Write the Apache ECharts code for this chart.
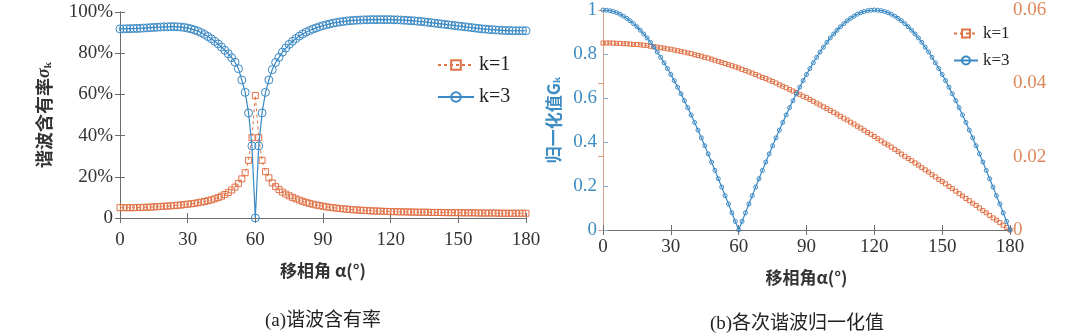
<!DOCTYPE html>
<html>
<head>
<meta charset="utf-8">
<script src="https://cdn.jsdelivr.net/npm/echarts@6/dist/echarts.min.js"></script>
<style>
html,body{margin:0;padding:0;background:#fff;}
#c{width:1080px;height:333px;}
</style>
</head>
<body>
<div id="c"></div>
<script>
// phase-shift angle alpha (deg)
const alpha = [0,1.5,3,4.5,6,7.5,9,10.5,12,13.5,15,16.5,18,19.5,21,22.5,24,25.5,27,28.5,30,31.5,33,34.5,36,37.5,39,40.5,42,43.5,45,46.5,48,49.5,51,52.5,54,55.5,57,58.5,60,61.5,63,64.5,66,67.5,69,70.5,72,73.5,75,76.5,78,79.5,81,82.5,84,85.5,87,88.5,90,91.5,93,94.5,96,97.5,99,100.5,102,103.5,105,106.5,108,109.5,111,112.5,114,115.5,117,118.5,120,121.5,123,124.5,126,127.5,129,130.5,132,133.5,135,136.5,138,139.5,141,142.5,144,145.5,147,148.5,150,151.5,153,154.5,156,157.5,159,160.5,162,163.5,165,166.5,168,169.5,171,172.5,174,175.5,177,178.5,180];

// (a) harmonic content, percent
const sigma1 = [5.0,5.0,5.0,5.0,5.0,5.1,5.1,5.2,5.2,5.3,
5.4,5.5,5.6,5.7,5.8,5.9,6.0,6.2,6.3,6.5,
6.7,6.9,7.1,7.4,7.7,8.0,8.4,8.8,9.3,9.9,
10.6,11.4,12.4,13.6,15.0,16.8,19.0,22.0,28.0,39.0,
59.5,39.0,28.0,22.5,19.5,17.0,15.2,13.8,12.6,11.6,
10.8,10.0,9.3,8.7,8.1,7.6,7.1,6.7,6.3,6.0,
5.7,5.4,5.2,5.0,4.8,4.6,4.4,4.3,4.1,4.0,
3.9,3.8,3.7,3.6,3.5,3.4,3.4,3.3,3.2,3.2,
3.1,3.1,3.0,3.0,3.0,2.9,2.9,2.9,2.8,2.8,
2.8,2.8,2.7,2.7,2.7,2.7,2.6,2.6,2.6,2.6,
2.6,2.5,2.5,2.5,2.5,2.5,2.4,2.4,2.4,2.4,
2.4,2.4,2.3,2.3,2.3,2.3,2.3,2.3,2.3,2.3,
2.3];
const sigma3 = [91.8,91.8,91.9,91.9,92.0,92.0,92.1,92.2,92.3,92.4,
92.5,92.6,92.7,92.8,92.8,92.9,92.9,92.8,92.7,92.5,
92.2,91.8,91.3,90.7,90.0,89.1,88.1,87.0,85.8,84.5,
83.0,81.4,79.7,77.8,75.6,72.5,67.0,61.0,51.0,35.0,
0,35.0,51.0,61.0,67.0,72.0,75.5,78.0,80.5,82.5,
84.3,85.8,87.1,88.3,89.3,90.2,91.0,91.7,92.3,92.9,
93.4,93.8,94.2,94.6,94.9,95.2,95.4,95.6,95.8,95.9,
96.0,96.1,96.2,96.2,96.3,96.3,96.3,96.3,96.3,96.3,
96.3,96.2,96.2,96.1,96.0,95.9,95.8,95.7,95.5,95.4,
95.2,95.0,94.8,94.6,94.4,94.2,94.0,93.8,93.6,93.4,
93.2,93.0,92.8,92.6,92.4,92.2,92.0,91.8,91.7,91.5,
91.4,91.3,91.2,91.1,91.0,91.0,90.9,90.9,90.9,90.9,
90.9];

// (b) normalized values
const g1 = [0.0510,0.0510,0.0510,0.0510,0.0509,0.0509,0.0508,0.0508,0.0507,0.0506,
0.0506,0.0505,0.0504,0.0503,0.0501,0.0500,0.0499,0.0497,0.0496,0.0494,
0.0493,0.0491,0.0489,0.0487,0.0485,0.0483,0.0481,0.0478,0.0476,0.0474,
0.0471,0.0469,0.0466,0.0463,0.0460,0.0457,0.0454,0.0451,0.0448,0.0445,
0.0442,0.0438,0.0435,0.0431,0.0428,0.0424,0.0420,0.0416,0.0413,0.0409,
0.0405,0.0401,0.0396,0.0392,0.0388,0.0383,0.0379,0.0375,0.0370,0.0365,
0.0361,0.0356,0.0351,0.0346,0.0341,0.0336,0.0331,0.0326,0.0321,0.0316,
0.0310,0.0305,0.0300,0.0294,0.0289,0.0283,0.0278,0.0272,0.0266,0.0261,
0.0255,0.0249,0.0243,0.0237,0.0232,0.0226,0.0220,0.0214,0.0207,0.0201,
0.0195,0.0189,0.0183,0.0177,0.0170,0.0164,0.0158,0.0151,0.0145,0.0138,
0.0132,0.0126,0.0119,0.0113,0.0106,0.0099,0.0093,0.0086,0.0080,0.0073,
0.0067,0.0060,0.0053,0.0047,0.0040,0.0033,0.0027,0.0020,0.0013,0.0007,
0];
const g3 = [1,0.999,0.997,0.993,0.988,0.981,0.972,0.962,0.951,0.938,
0.924,0.908,0.891,0.873,0.853,0.831,0.809,0.785,0.760,0.734,
0.707,0.679,0.649,0.619,0.588,0.556,0.523,0.489,0.454,0.419,
0.383,0.346,0.309,0.271,0.233,0.195,0.156,0.118,0.078,0.039,
0,0.039,0.078,0.118,0.156,0.195,0.233,0.271,0.309,0.346,
0.383,0.419,0.454,0.489,0.523,0.556,0.588,0.619,0.649,0.679,
0.707,0.734,0.760,0.785,0.809,0.831,0.853,0.873,0.891,0.908,
0.924,0.938,0.951,0.962,0.972,0.981,0.988,0.993,0.997,0.999,
1,0.999,0.997,0.993,0.988,0.981,0.972,0.962,0.951,0.938,
0.924,0.908,0.891,0.873,0.853,0.831,0.809,0.785,0.760,0.734,
0.707,0.679,0.649,0.619,0.588,0.556,0.523,0.489,0.454,0.419,
0.383,0.346,0.309,0.271,0.233,0.195,0.156,0.118,0.078,0.039,
0];

const seriesNames = ['k=1', 'k=3'];
const captions = ['(a)谐波含有率', '(b)各次谐波归一化值'];

const BLUE = '#3a89c4';
const ORANGE = '#e07348';
const SERIF = "'Liberation Serif','Noto Sans CJK SC',serif";
const CJK = "'Noto Sans CJK SC','Liberation Serif',sans-serif";
const AX = '#6e6e6e';

const pairs = (ys) => alpha.map((a, i) => [a, ys[i]]);

const xBase = (grid, pos, extra) => Object.assign({
  type: 'value', gridIndex: grid, position: pos, min: 0, max: 180, interval: 30,
  axisLine: { show: true, lineStyle: { color: AX, width: 1 } },
  axisTick: { show: true, inside: true, length: 5, lineStyle: { color: AX } },
  splitLine: { show: false },
  axisLabel: { show: false }
}, extra || {});

const chart = echarts.init(document.getElementById('c'), null, { renderer: 'canvas' });
chart.setOption({
  animation: false,
  backgroundColor: '#fff',
  title: [
    { text: captions[0], left: 323, top: 312, textAlign: 'center', padding: 0,
      textStyle: { fontSize: 19, fontWeight: 'normal', color: '#222', fontFamily: SERIF } },
    { text: captions[1], left: 797, top: 315, textAlign: 'center', padding: 0,
      textStyle: { fontSize: 19, fontWeight: 'normal', color: '#222', fontFamily: SERIF } }
  ],
  grid: [
    { left: 120, right: 554, top: 12, bottom: 115 },
    { left: 603, right: 70, top: 10, bottom: 103 }
  ],
  legend: [
    { data: [seriesNames[0], seriesNames[1]], orient: 'vertical', left: 432, top: 50,
      itemWidth: 36, itemHeight: 12, itemGap: 12,
      textStyle: { fontSize: 20, color: '#222', fontFamily: SERIF } },
    { data: [seriesNames[0] + ' ', seriesNames[1] + ' '], orient: 'vertical', left: 948, top: 20,
      itemWidth: 24, itemHeight: 10, itemGap: 10,
      formatter: (n) => n.trim(),
      textStyle: { fontSize: 17, color: '#222', fontFamily: SERIF } }
  ],
  xAxis: [
    xBase(0, 'bottom', {
      axisLabel: { show: true, margin: 13, fontSize: 19, color: '#333', fontFamily: SERIF },
      name: '移相角 α(°)', nameLocation: 'middle', nameGap: 44,
      nameTextStyle: { fontSize: 17, fontWeight: 'bold', color: '#333', fontFamily: CJK }
    }),
    xBase(0, 'top'),
    xBase(1, 'bottom', {
      axisLabel: { show: true, margin: 8, fontSize: 19, color: '#333', fontFamily: SERIF },
      name: '移相角α(°)', nameLocation: 'middle', nameGap: 39,
      nameTextStyle: { fontSize: 17, fontWeight: 'bold', color: '#333', fontFamily: CJK }
    }),
    xBase(1, 'top')
  ],
  yAxis: [
    {
      type: 'value', gridIndex: 0, position: 'left', min: 0, max: 100, interval: 20,
      axisLine: { show: true, lineStyle: { color: AX } },
      axisTick: { show: true, inside: true, length: 5, lineStyle: { color: AX } },
      splitLine: { show: false },
      axisLabel: { margin: 7, fontSize: 19, color: '#333', fontFamily: SERIF,
        formatter: (v) => v === 0 ? '0' : v + '%' },
      name: '谐波含有率{s|σ}{sub|k}', nameLocation: 'middle', nameRotate: 90, nameGap: 66,
      nameTextStyle: { fontSize: 18, fontWeight: 'bold', color: '#333', fontFamily: CJK,
        rich: { s: { fontSize: 18, fontStyle: 'italic', color: '#333', fontFamily: SERIF },
                sub: { fontSize: 11, color: '#333', fontFamily: SERIF, verticalAlign: 'bottom', padding: [8, 0, 0, 0] } } }
    },
    {
      type: 'value', gridIndex: 0, position: 'right', min: 0, max: 100, interval: 20,
      axisLine: { show: true, lineStyle: { color: AX } },
      axisTick: { show: true, inside: true, length: 5, lineStyle: { color: AX } },
      splitLine: { show: false }, axisLabel: { show: false }
    },
    {
      type: 'value', gridIndex: 1, position: 'left', min: 0, max: 1, interval: 0.2,
      axisLine: { show: true, lineStyle: { color: '#7aa9cc' } },
      axisTick: { show: true, inside: true, length: 5, lineStyle: { color: '#7aa9cc' } },
      splitLine: { show: false },
      axisLabel: { margin: 6, fontSize: 19, color: '#3d8cc2', fontFamily: SERIF },
      name: '归一化值G{sub|k}', nameLocation: 'middle', nameRotate: 90, nameGap: 40,
      nameTextStyle: { fontSize: 17, fontWeight: 'bold', color: '#3d8cc2', fontFamily: CJK,
        rich: { sub: { fontSize: 11, color: '#3d8cc2', fontFamily: SERIF, verticalAlign: 'bottom', padding: [8, 0, 0, 0] } } }
    },
    {
      type: 'value', gridIndex: 1, position: 'right', min: 0, max: 0.06, interval: 0.02,
      axisLine: { show: true, lineStyle: { color: '#dba585' } },
      axisTick: { show: true, inside: true, length: 5, lineStyle: { color: '#dba585' } },
      splitLine: { show: false },
      axisLabel: { margin: 3, fontSize: 19, color: '#dd875a', fontFamily: SERIF }
    }
  ],
  series: [
    { name: seriesNames[0], type: 'line', xAxisIndex: 0, yAxisIndex: 0, data: pairs(sigma1),
      symbol: 'rect', symbolSize: 6, showAllSymbol: true, z: 2,
      itemStyle: { color: 'rgba(255,255,255,0)', borderColor: ORANGE, borderWidth: 1 },
      lineStyle: { color: ORANGE, width: 1, type: [3, 3] } },
    { name: seriesNames[1], type: 'line', xAxisIndex: 0, yAxisIndex: 0, data: pairs(sigma3),
      symbol: 'circle', symbolSize: 8, showAllSymbol: true, z: 3,
      itemStyle: { color: 'rgba(255,255,255,0)', borderColor: BLUE, borderWidth: 1 },
      lineStyle: { color: BLUE, width: 1.2 } },
    { name: seriesNames[0] + ' ', type: 'line', xAxisIndex: 2, yAxisIndex: 3, data: pairs(g1),
      symbol: 'rect', symbolSize: 4, showAllSymbol: true, z: 2,
      itemStyle: { color: 'rgba(255,255,255,0)', borderColor: ORANGE, borderWidth: 1 },
      lineStyle: { color: ORANGE, width: 1, type: [3, 3] } },
    { name: seriesNames[1] + ' ', type: 'line', xAxisIndex: 2, yAxisIndex: 2, data: pairs(g3),
      symbol: 'circle', symbolSize: 4, showAllSymbol: true, z: 3,
      itemStyle: { color: 'rgba(255,255,255,0)', borderColor: BLUE, borderWidth: 1 },
      lineStyle: { color: BLUE, width: 1.2 } }
  ]
});
</script>
</body>
</html>
